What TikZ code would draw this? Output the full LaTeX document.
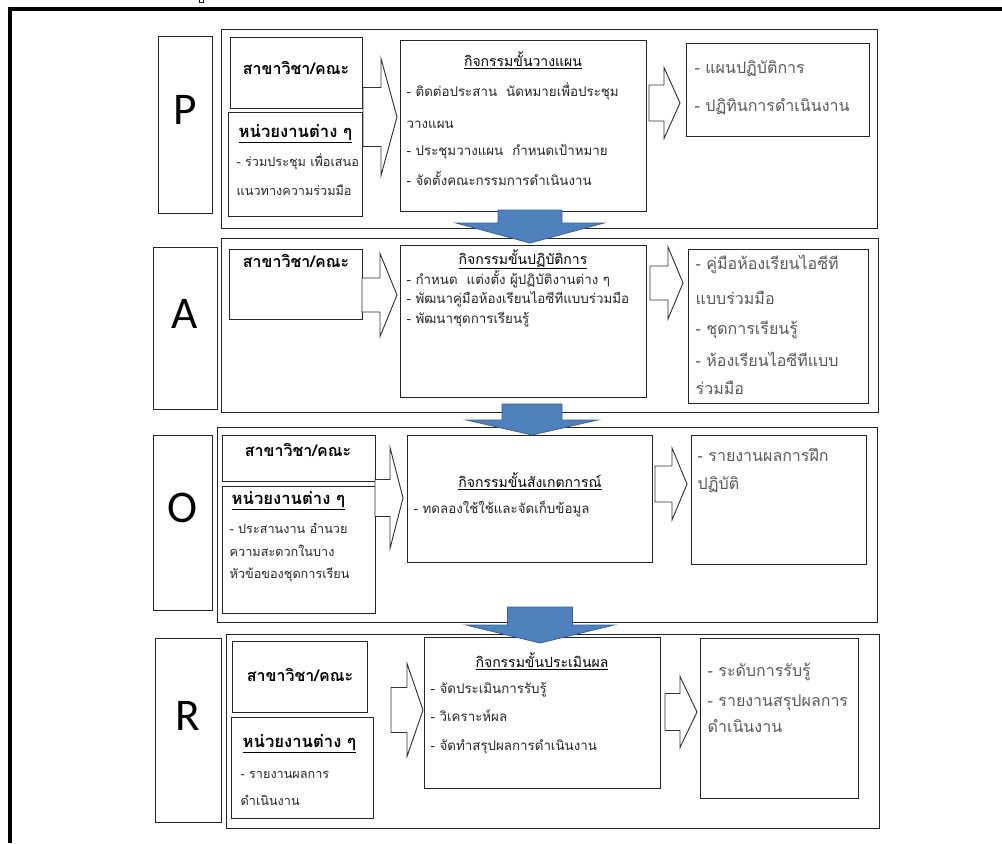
\documentclass[tikz,border=0pt]{standalone}
\usepackage{fontspec}
\setmainfont{Liberation Sans}
\newfontfamily\thai[Script=Thai]{Loma}
\newfontfamily\latin{Carlito}
\usepackage{tikz}
\usetikzlibrary{shapes,arrows,positioning,calc,fit}

\definecolor{stepblue}{RGB}{79,129,189}
\definecolor{stepblueline}{RGB}{58,98,148}

\begin{document}
\begin{tikzpicture}[
    x=0.75pt, y=-0.75pt,
    frame/.style={rectangle, draw=black!85, line width=0.75pt, inner sep=0pt},
    panel/.style={frame},
    letterbox/.style={frame, font=\latin\fontsize{34}{34}\selectfont},
    orgtext/.style={anchor=base, yshift=-3.4pt, font=\thai\bfseries\fontsize{12}{14}\selectfont},
    unithead/.style={anchor=base west, yshift=-3.4pt, font=\thai\bfseries\fontsize{12.5}{14}\selectfont},
    unittext/.style={anchor=base west, yshift=-2.7pt, text=black!85, font=\thai\fontsize{9.5}{11}\selectfont},
    acthead/.style={anchor=base, yshift=-3pt, font=\thai\fontsize{10.5}{12}\selectfont},
    acttext/.style={anchor=base west, yshift=-2.8pt, text=black!85, font=\thai\fontsize{10}{12}\selectfont},
    outtext/.style={anchor=base west, yshift=-3.4pt, text=black!65, font=\thai\fontsize{12}{14}\selectfont},
    % hollow arrow: {shaft}{head}{length}{head length}, tip at the pic origin
    pics/hollowarrow/.style n args={4}{code={
        \draw[draw=black!80, fill=white, line width=0.7pt]
            (-#3,-#1/2) -- (-#4,-#1/2) -- (-#4,-#2/2) -- (0,0)
            -- (-#4,#2/2) -- (-#4,#1/2) -- (-#3,#1/2) -- cycle;
    }},
    % blue step arrow pointing down, tip at the pic origin
    pics/stepdown/.style n args={4}{code={
        \draw[draw=stepblueline, fill=stepblue, line width=0.6pt]
            (-#1/2,-#3) -- (-#1/2,-#4) -- (-#2/2,-#4) -- (0,0)
            -- (#2/2,-#4) -- (#1/2,-#4) -- (#1/2,-#3) -- cycle;
    }}
]
\useasboundingbox (0,0) rectangle (1002,843);
\clip (0,0) rectangle (1002,843);

% Page frame
\draw[line width=3pt] (10,843) -- (10,9) -- (1002,9);
\node[font=\thai\fontsize{9}{9}\selectfont] (cutChar) at (201,-1) {ป};

% P: planning
\node[panel, fit={(221,29) (877,228)}] (pPanel) {};
\node[letterbox, fit={(158,36) (212,213)}] (pLetter) {P};
\node[frame, fit={(230,37) (362,108)}] (pOrg) {};
\node[frame, fit={(228,112) (362,216)}] (pUnit) {};
\node[frame, fit={(400,40) (646,211)}] (pAct) {};
\node[frame, fit={(686,43) (869,136)}] (pOut) {};

\node[orgtext] (pOrgT) at (296,70) {สาขาวิชา/คณะ};
\node[unithead] (pUnitT) at (234,133) {\underline{หน่วยงานต่าง ๆ}};
\node[unittext] (pUnit1) at (232,163) {- ร่วมประชุม เพื่อเสนอ};
\node[unittext] (pUnit2) at (232,192) {แนวทางความร่วมมือ};

\node[acthead] (pActT) at (523,62) {\underline{กิจกรรมขั้นวางแผน}};
\node[acttext] (pAct1) at (402,93) {- ติดต่อประสาน\ \ นัดหมายเพื่อประชุม};
\node[acttext] (pAct2) at (402,125) {วางแผน};
\node[acttext] (pAct3) at (402,152) {- ประชุมวางแผน\ \ กำหนดเป้าหมาย};
\node[acttext] (pAct4) at (402,182) {- จัดตั้งคณะกรรมการดำเนินงาน};

\node[outtext] (pOut1) at (690,69) {- แผนปฏิบัติการ};
\node[outtext] (pOut2) at (690,107) {- ปฏิทินการดำเนินงาน};

\pic (pArrowA) at (397,117) {hollowarrow={59}{117}{34}{16}};
\pic (pArrowB) at (680,103) {hollowarrow={36}{71}{31}{16}};

% A: action
\node[panel, fit={(221,238) (878,412)}] (aPanel) {};
\node[letterbox, fit={(153,247) (217,409)}] (aLetter) {A};
\node[frame, fit={(229,249) (362,319)}] (aOrg) {};
\node[frame, fit={(400,245) (646,397)}] (aAct) {};
\node[frame, fit={(688,249) (868,403)}] (aOut) {};

\node[orgtext] (aOrgT) at (296,263) {สาขาวิชา/คณะ};

\node[acthead] (aActT) at (523,260) {\underline{กิจกรรมขั้นปฏิบัติการ}};
\node[acttext] (aAct1) at (402,281) {- กำหนด\ \ แต่งตั้ง ผู้ปฏิบัติงานต่าง ๆ};
\node[acttext] (aAct2) at (402,300) {- พัฒนาคู่มือห้องเรียนไอซีทีแบบร่วมมือ};
\node[acttext] (aAct3) at (402,320) {- พัฒนาชุดการเรียนรู้};

\node[outtext] (aOut1) at (691,265) {- คู่มือห้องเรียนไอซีที};
\node[outtext] (aOut2) at (691,300) {แบบร่วมมือ};
\node[outtext] (aOut3) at (691,330) {- ชุดการเรียนรู้};
\node[outtext] (aOut4) at (691,362) {- ห้องเรียนไอซีทีแบบ};
\node[outtext] (aOut5) at (691,390) {ร่วมมือ};

\pic (aArrowA) at (397,295) {hollowarrow={34}{83}{35}{17}};
\pic (aArrowB) at (683,283) {hollowarrow={34}{72}{33}{15}};

% O: observation
\node[panel, fit={(217,427) (877,622)}] (oPanel) {};
\node[letterbox, fit={(153,435) (212,610)}] (oLetter) {O};
\node[frame, fit={(222,435) (375,481)}] (oOrg) {};
\node[frame, fit={(222,486) (375,613)}] (oUnit) {};
\node[frame, fit={(407,435) (652,562)}] (oAct) {};
\node[frame, fit={(691,435) (866,564)}] (oOut) {};

\node[orgtext] (oOrgT) at (298,452) {สาขาวิชา/คณะ};
\node[unithead] (oUnitT) at (227,500) {\underline{หน่วยงานต่าง ๆ}};
\node[unittext] (oUnit1) at (225,530) {- ประสานงาน อำนวย};
\node[unittext] (oUnit2) at (225,553) {ความสะดวกในบาง};
\node[unittext] (oUnit3) at (225,575) {หัวข้อของชุดการเรียน};

\node[acthead] (oActT) at (530,483) {\underline{กิจกรรมขั้นสังเกตการณ์}};
\node[acttext] (oAct1) at (409,510) {- ทดลองใช้ใช้และจัดเก็บข้อมูล};

\node[outtext] (oOut1) at (693,457) {- รายงานผลการฝึก};
\node[outtext] (oOut2) at (693,485) {ปฏิบัติ};

\pic (oArrowA) at (403,498) {hollowarrow={37}{101}{28}{13}};
\pic (oArrowB) at (687,484) {hollowarrow={36}{72}{32}{15}};

% R: reflection
\node[panel, fit={(226,634) (879,828)}] (rPanel) {};
\node[letterbox, fit={(155,638) (221,822)}] (rLetter) {R};
\node[frame, fit={(232,641) (367,712)}] (rOrg) {};
\node[frame, fit={(231,717) (373,818)}] (rUnit) {};
\node[frame, fit={(424,637) (660,788)}] (rAct) {};
\node[frame, fit={(700,638) (858,798)}] (rOut) {};

\node[orgtext] (rOrgT) at (300,677) {สาขาวิชา/คณะ};
\node[unithead] (rUnitT) at (238,743) {\underline{หน่วยงานต่าง ๆ}};
\node[unittext] (rUnit1) at (236,775) {- รายงานผลการ};
\node[unittext] (rUnit2) at (236,802) {ดำเนินงาน};

\node[acthead] (rActT) at (542,663) {\underline{กิจกรรมขั้นประเมินผล}};
\node[acttext] (rAct1) at (426,690) {- จัดประเมินการรับรู้};
\node[acttext] (rAct2) at (426,718) {- วิเคราะห์ผล};
\node[acttext] (rAct3) at (426,747) {- จัดทำสรุปผลการดำเนินงาน};

\node[outtext] (rOut1) at (703,672) {- ระดับการรับรู้};
\node[outtext] (rOut2) at (703,702) {- รายงานสรุปผลการ};
\node[outtext] (rOut3) at (703,728) {ดำเนินงาน};

\pic (rArrowA) at (423,710) {hollowarrow={45}{93}{32}{16}};
\pic (rArrowB) at (697,712) {hollowarrow={37}{71}{32}{17}};

% Step arrows between panels
\pic (stepPA) at (530,243) {stepdown={64}{148}{33}{20}};
\pic (stepAO) at (532,435) {stepdown={60}{131}{31}{15}};
\pic (stepOR) at (540,643) {stepdown={65}{148}{36}{18}};

\end{tikzpicture}
\end{document}
